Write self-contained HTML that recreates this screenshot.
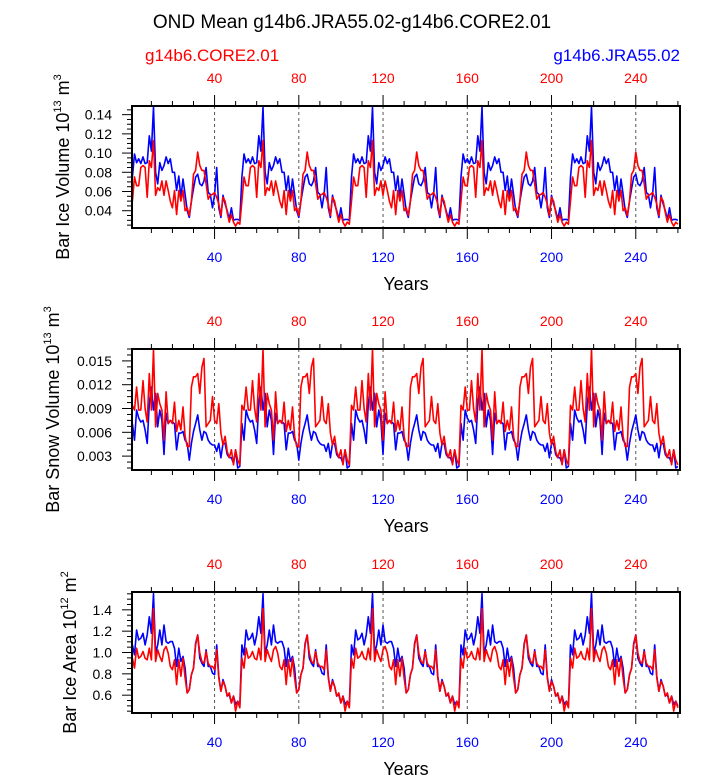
<!DOCTYPE html>
<html><head><meta charset="utf-8"><style>
body{margin:0;background:#fff}
svg text{font-family:"Liberation Sans",sans-serif}
</style></head><body>
<svg id="chart" width="723" height="775" xmlns="http://www.w3.org/2000/svg">
<text x="352" y="28" font-size="19" text-anchor="middle">OND Mean g14b6.JRA55.02-g14b6.CORE2.01</text>
<text x="145" y="61" font-size="17" fill="#f00">g14b6.CORE2.01</text>
<text x="680" y="61" font-size="17" fill="#00f" text-anchor="end">g14b6.JRA55.02</text>
</svg>
<script>
// one forcing cycle (52 years), repeated 5 times in each run
const ivBlue=[0.075,0.099,0.090,0.094,0.089,0.096,0.089,0.090,0.118,0.102,0.148,0.080,0.068,0.090,0.082,0.087,0.096,0.089,0.094,0.080,0.080,0.061,0.076,0.054,0.073,0.057,0.040,0.033,0.050,0.063,0.075,0.078,0.068,0.066,0.071,0.085,0.059,0.057,0.043,0.057,0.085,0.043,0.033,0.056,0.047,0.040,0.031,0.043,0.030,0.031,0.031,0.030];
const ivRed=[0.050,0.075,0.066,0.066,0.085,0.087,0.085,0.054,0.092,0.085,0.113,0.056,0.064,0.061,0.071,0.056,0.071,0.061,0.050,0.043,0.061,0.036,0.061,0.050,0.061,0.040,0.043,0.035,0.050,0.078,0.082,0.101,0.087,0.082,0.082,0.068,0.052,0.056,0.057,0.059,0.054,0.047,0.035,0.054,0.050,0.038,0.028,0.036,0.028,0.024,0.028,0.026];
const svRed=[0.0094,0.0088,0.0117,0.0088,0.0088,0.0125,0.0090,0.0073,0.0134,0.0088,0.0165,0.0067,0.0109,0.0096,0.0088,0.0050,0.0111,0.0071,0.0075,0.0071,0.0098,0.0061,0.0075,0.0063,0.0092,0.0055,0.0042,0.0042,0.0117,0.0130,0.0130,0.0134,0.0109,0.0142,0.0153,0.0067,0.0071,0.0075,0.0105,0.0075,0.0071,0.0096,0.0059,0.0044,0.0055,0.0036,0.0028,0.0038,0.0019,0.0038,0.0025,0.0019];
const svBlue=[0.0071,0.0050,0.0088,0.0078,0.0073,0.0075,0.0063,0.0046,0.0096,0.0117,0.0088,0.0109,0.0067,0.0088,0.0075,0.0032,0.0084,0.0071,0.0075,0.0073,0.0071,0.0038,0.0059,0.0059,0.0061,0.0050,0.0046,0.0025,0.0046,0.0061,0.0071,0.0082,0.0063,0.0050,0.0061,0.0059,0.0050,0.0046,0.0044,0.0044,0.0036,0.0046,0.0028,0.0046,0.0046,0.0032,0.0028,0.0028,0.0021,0.0038,0.0015,0.0017];
const iaBlue=[1.071,0.978,1.211,1.118,1.133,1.180,1.071,1.164,1.335,1.180,1.551,0.994,1.071,1.211,1.071,1.257,1.102,1.086,1.102,1.102,1.040,0.870,1.040,0.916,0.963,0.854,0.621,0.653,0.792,0.854,1.086,1.164,0.947,0.900,0.870,1.025,0.870,0.870,0.807,0.792,1.071,0.777,0.637,0.746,0.684,0.591,0.606,0.528,0.591,0.513,0.544,0.498];
const iaRed=[0.947,0.854,1.040,0.947,0.963,1.009,0.947,0.932,1.040,0.932,1.412,0.916,1.025,0.963,0.916,1.025,1.056,0.994,0.870,0.839,0.932,0.699,0.932,0.777,0.947,0.761,0.621,0.653,0.792,0.854,1.071,1.164,0.994,0.916,0.900,1.009,0.900,0.870,0.870,0.839,1.025,0.761,0.637,0.730,0.684,0.591,0.621,0.528,0.591,0.451,0.544,0.482];
const nCycles=5;
const xTicks=[40,80,120,160,200,240];
const ivTicks=[0.04,0.06,0.08,0.10,0.12,0.14];
const ivTickLabels=["0.04","0.06","0.08","0.10","0.12","0.14"];
const svTicks=[0.003,0.006,0.009,0.012,0.015];
const svTickLabels=["0.003","0.006","0.009","0.012","0.015"];
const iaTicks=[0.6,0.8,1.0,1.2,1.4];
const iaTickLabels=["0.6","0.8","1.0","1.2","1.4"];

const NS="http://www.w3.org/2000/svg";
const svg=document.getElementById('chart');
function mk(tag,attrs,parent){const e=document.createElementNS(NS,tag);for(const k in attrs)e.setAttribute(k,attrs[k]);(parent||svg).appendChild(e);return e;}
const X0=132,X1=680,D0=0.8,D1=261;
const xs=v=>X0+(v-D0)/(D1-D0)*(X1-X0);
function full(c){let a=[];for(let i=0;i<nCycles;i++)a=a.concat(c);return a;}

function panel(o){
  const g=mk('g',{});
  
  
  const ys=v=>o.y1-(v-o.d0)/(o.d1-o.d0)*(o.y1-o.y0);
  xTicks.forEach(t=>{const l=mk('line',{x1:xs(t),x2:xs(t),y1:o.y0,y2:o.y1,stroke:'#555','stroke-width':1,'stroke-dasharray':'3,3'},g);
    });
  [[o.blue,'#00f','jra55-line'],[o.red,'#f00','core2-line']].forEach(s=>{
    const d=full(s[0]);let p='';
    d.forEach((v,i)=>{p+=(i?'L':'M')+xs(i+1).toFixed(1)+','+ys(Math.max(o.d0,Math.min(o.d1,v))).toFixed(1);});
    const e=mk('path',{d:p,fill:'none',stroke:s[1],'stroke-width':1.6,'stroke-linejoin':'round'},g);
    
  });
  const fr=mk('rect',{x:X0,y:o.y0,width:X1-X0,height:o.y1-o.y0,fill:'none',stroke:'#000','stroke-width':2},g);
  
  for(let t=10;t<=260;t+=10){const maj=t%40===0;const len=maj?11:5;
    mk('line',{x1:xs(t),x2:xs(t),y1:o.y1,y2:o.y1+len,stroke:'#000','stroke-width':1},g);
    mk('line',{x1:xs(t),x2:xs(t),y1:o.y0,y2:o.y0-len,stroke:'#000','stroke-width':1},g);}
  xTicks.forEach(t=>{
    const b=mk('text',{x:xs(t),y:o.y1+34,'font-size':14,fill:'#00f','text-anchor':'middle'},g);b.textContent=t;
    
    const tp=mk('text',{x:xs(t),y:o.y0-23,'font-size':14,fill:'#f00','text-anchor':'middle'},g);tp.textContent=t;
    
  });
  const step=(o.ticks[1]-o.ticks[0])/4;
  for(let v=o.ticks[0]-3*step;v<=o.d1+1e-9;v+=step){if(v<o.d0)continue;const yy=ys(v);
    const maj=o.ticks.some(t=>Math.abs(t-v)<step/10);
    mk('line',{x1:X0,x2:X0-(maj?10:5),y1:yy,y2:yy,stroke:'#000','stroke-width':1},g);}
  o.ticks.forEach((t,i)=>{const e=mk('text',{x:X0-20,y:ys(t)+5,'font-size':14,'text-anchor':'end'},g);e.textContent=o.labels[i];
    });
  const xt=mk('text',{x:406,y:o.y1+62,'font-size':18,'text-anchor':'middle'},g);xt.textContent='Years';
  
  const cy=(o.y0+o.y1)/2;
  const yt=mk('text',{x:o.ytx,y:cy,'font-size':18,'text-anchor':'middle',transform:`rotate(-90 ${o.ytx} ${cy})`},g);
  yt.innerHTML=o.title+' 10<tspan font-size="11" dy="-8">'+o.exp+'</tspan><tspan dy="8"> m</tspan><tspan font-size="11" dy="-8">'+o.unitExp+'</tspan>';
  
}
panel({name:'ice-volume-panel',y0:106,y1:228,d0:0.022,d1:0.149,blue:ivBlue,red:ivRed,ticks:ivTicks,labels:ivTickLabels,ytx:69,title:'Bar Ice Volume',exp:'13',unitExp:'3'});
panel({name:'snow-volume-panel',y0:349,y1:470,d0:0.00125,d1:0.0165,blue:svBlue,red:svRed,ticks:svTicks,labels:svTickLabels,ytx:59,title:'Bar Snow Volume',exp:'13',unitExp:'3'});
panel({name:'ice-area-panel',y0:592,y1:713,d0:0.433,d1:1.567,blue:iaBlue,red:iaRed,ticks:iaTicks,labels:iaTickLabels,ytx:76,title:'Bar Ice Area',exp:'12',unitExp:'2'});
</script>
</body></html>
